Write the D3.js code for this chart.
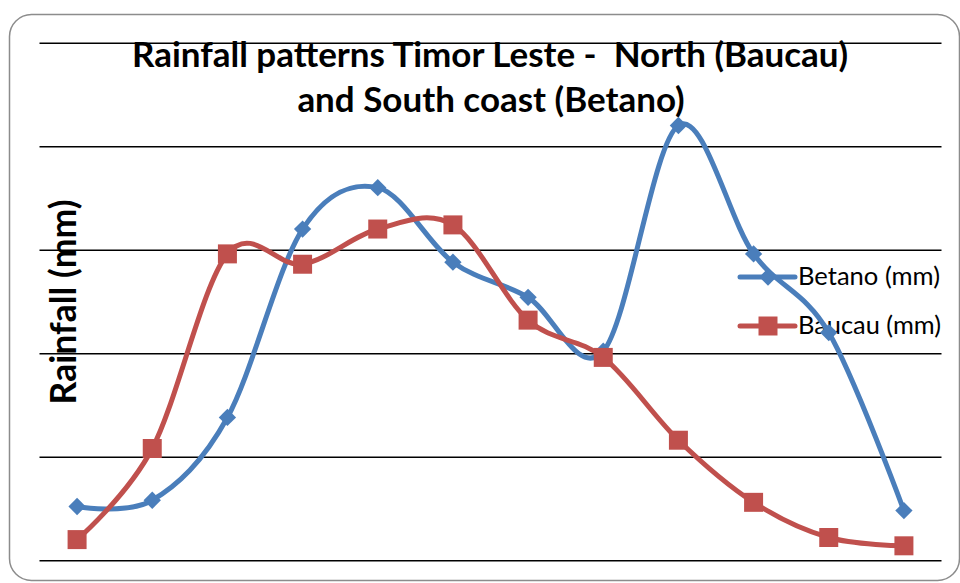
<!DOCTYPE html>
<html lang="en">
<head>
<meta charset="utf-8">
<script src="https://d3js.org/d3.v7.min.js"></script>
<style>
  body { margin: 0; background: #fff; }
  svg { display: block; }
</style>
</head>
<body>
<script>
// months (no labels shown on the chart)
var months = ["Jan","Feb","Mar","Apr","May","Jun","Jul","Aug","Sep","Oct","Nov","Dec"];
// rainfall (mm)
var betano = [26, 29, 69, 160, 180, 144, 127, 101, 210, 148, 110, 24];
var baucau = [10, 54, 148, 143, 160, 162, 116, 98, 58, 28, 11, 7];
var seriesNames = ["Betano (mm)", "Baucau (mm)"];
var yTicks = [0, 50, 100, 150, 200, 250];

var w = 960, h = 583;
var plotLeft = 39.5, plotRight = 941.5, plotTop = 42.7, plotBottom = 560.3;
var blue = "#4a7ebb", red = "#c0504d";

var svg = d3.select("body").append("svg")
  .attr("width", w).attr("height", h);

// rounded chart border
svg.append("rect")
  .attr("x", 9.5).attr("y", 14.5)
  .attr("width", 950).attr("height", 566)
  .attr("rx", 22).attr("ry", 22)
  .attr("fill", "#fff")
  .attr("stroke", "#8c8c8c")
  .attr("stroke-width", 1.5);

var x = d3.scalePoint().domain(months).range([plotLeft, plotRight]).padding(0.5);
var y = d3.scaleLinear().domain([0, 250]).range([plotBottom, plotTop]);

// horizontal gridlines
var yAxis = d3.axisLeft(y).tickValues(yTicks).tickSize(-(plotRight - plotLeft)).tickFormat("");
var gy = svg.append("g").attr("transform", "translate(" + plotLeft + ",0)").call(yAxis);
gy.select(".domain").remove();
gy.selectAll(".tick line").attr("stroke", "#000").attr("stroke-width", 1.6);

// fit a text element to a given width by adjusting font size
function fit(sel, width) {
  var fs = parseFloat(sel.attr("font-size"));
  var len = sel.node().getComputedTextLength();
  sel.attr("font-size", (fs * width / len).toFixed(2));
  return sel;
}

// title
var t1 = svg.append("text")
  .attr("x", 490).attr("y", 67)
  .attr("text-anchor", "middle")
  .attr("font-family", "Lato, 'Open Sans', sans-serif")
  .attr("font-weight", "bold").attr("font-size", 28)
  .attr("fill", "#000")
  .text("Rainfall patterns Timor Leste -\u00a0 North (Baucau)");
fit(t1, 716);
var t2 = svg.append("text")
  .attr("x", 491).attr("y", 112)
  .attr("text-anchor", "middle")
  .attr("font-family", "Lato, 'Open Sans', sans-serif")
  .attr("font-weight", "bold").attr("font-size", t1.attr("font-size"))
  .attr("fill", "#000")
  .text("and South coast (Betano)");

// y axis title
var yt = svg.append("text")
  .attr("transform", "translate(76,302) rotate(-90)")
  .attr("text-anchor", "middle")
  .attr("font-family", "Lato, 'Open Sans', sans-serif")
  .attr("font-weight", "bold").attr("font-size", 26)
  .attr("fill", "#000")
  .text("Rainfall (mm)");
fit(yt, 205);

var diamond = d3.symbol().type(d3.symbolSquare).size(150);
var square = d3.symbol().type(d3.symbolSquare).size(361);

// legend
var legendY = [277, 326];
[blue, red].forEach(function(c, i) {
  var g = svg.append("g");
  g.append("line")
    .attr("x1", 740).attr("x2", 795)
    .attr("y1", legendY[i]).attr("y2", legendY[i])
    .attr("stroke", c).attr("stroke-width", 5).attr("stroke-linecap", "round");
  g.append("path")
    .attr("d", i == 0 ? diamond() : square())
    .attr("transform", "translate(768," + legendY[i] + ")" + (i == 0 ? " rotate(45)" : ""))
    .attr("fill", c);
  var lt = g.append("text")
    .attr("x", 798).attr("y", legendY[i] + 8)
    .attr("font-family", "Lato, 'Open Sans', sans-serif")
    .attr("font-size", 20)
    .attr("fill", "#000")
    .text(seriesNames[i]);
  fit(lt, i == 0 ? 142 : 143);
});

var line = d3.line()
  .x(function(d, i) { return x(months[i]); })
  .y(function(d) { return y(d); })
  .curve(d3.curveCatmullRom.alpha(0));

// Betano
svg.append("path")
  .datum(betano)
  .attr("d", line)
  .attr("fill", "none").attr("stroke", blue).attr("stroke-width", 5)
  .attr("stroke-linejoin", "round");
svg.selectAll(".bet")
  .data(betano).enter().append("path")
  .attr("class", "bet")
  .attr("d", diamond())
  .attr("transform", function(d, i) { return "translate(" + x(months[i]) + "," + y(d) + ") rotate(45)"; })
  .attr("fill", blue);

// Baucau
svg.append("path")
  .datum(baucau)
  .attr("d", line)
  .attr("fill", "none").attr("stroke", red).attr("stroke-width", 5)
  .attr("stroke-linejoin", "round");
svg.selectAll(".bau")
  .data(baucau).enter().append("path")
  .attr("class", "bau")
  .attr("d", square())
  .attr("transform", function(d, i) { return "translate(" + x(months[i]) + "," + y(d) + ")"; })
  .attr("fill", red);
</script>
</body>
</html>
